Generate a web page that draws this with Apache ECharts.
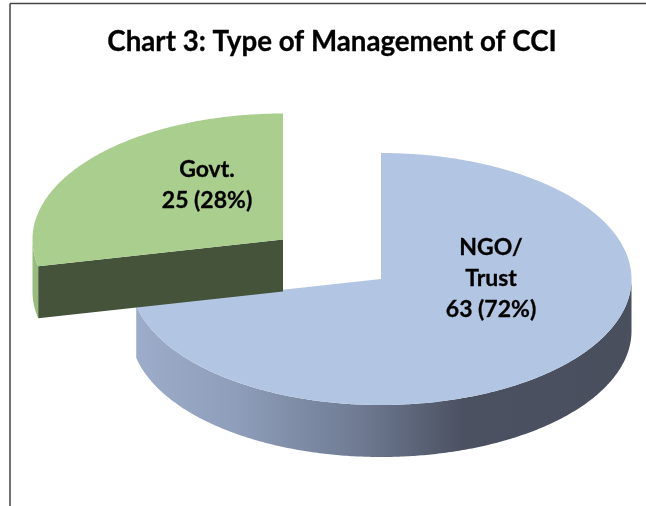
<!DOCTYPE html>
<html>
<head>
<meta charset="utf-8">
<style>html,body{margin:0;padding:0;background:#fff}#c{width:646px;height:506px}</style>
<script src="https://cdn.jsdelivr.net/npm/echarts@6/dist/echarts.min.js"></script>
</head>
<body>
<div id="c"></div>
<script>
const chartTitle = 'Chart 3: Type of Management of CCI';
const categories = ['NGO/\nTrust', 'Govt.'];
const values = [63, 25];
const valueLabels = ['63 (72%)', '25 (28%)'];

const topColors = ['#b2c6e3', '#a9ce8d'];
const RX = 250.5, RY = 126, DEPTH = 52;
const centers = [[381, 279], [283, 239.5]];
const labelAnchors = [[491, 279], [207, 185]];
const total = values.reduce((a, b) => a + b, 0);

function pt(c, t, dy) {
  return [c[0] + RX * Math.sin(t), c[1] - RY * Math.cos(t) + (dy || 0)];
}
function arc(c, a, b, dy) {
  const n = Math.max(2, Math.ceil(Math.abs(b - a) / 0.01));
  const out = [];
  for (let i = 0; i <= n; i++) out.push(pt(c, a + (b - a) * i / n, dy));
  return out;
}
const sideFill = {
  type: 'linear', x: 135, y: 0, x2: 632, y2: 0, global: true,
  colorStops: [
    { offset: 0, color: '#9cacca' },
    { offset: 0.2, color: '#8f9eba' },
    { offset: 0.45, color: '#6f7b93' },
    { offset: 0.66, color: '#4b5161' },
    { offset: 1, color: '#4a4f5e' }
  ]
};
function renderItem(params, api) {
  const i = params.dataIndex;
  let before = 0;
  for (let k = 0; k < i; k++) before += values[k];
  const a0 = before / total * 2 * Math.PI;
  const a1 = (before + api.value(0)) / total * 2 * Math.PI;
  const c = centers[i];
  const children = [];
  const lo = Math.max(a0, Math.PI / 2), hi = Math.min(a1, 1.5 * Math.PI);
  if (hi > lo) {
    children.push({
      type: 'polygon',
      shape: { points: arc(c, lo, hi, 0).concat(arc(c, hi, lo, DEPTH)) },
      style: { fill: i === 0 ? sideFill : '#97bc7b' }
    });
  }
  if (i === 1) {
    const s = pt(c, a0);
    children.push({
      type: 'polygon',
      shape: { points: [s, c, [c[0], c[1] + DEPTH], [s[0], s[1] + DEPTH]] },
      style: { fill: '#445339' }
    });
  }
  children.push({
    type: 'polygon',
    shape: { points: [c].concat(arc(c, a0, a1, 0)) },
    style: { fill: topColors[i] }
  });
  children.push({
    type: 'text',
    style: {
      x: labelAnchors[i][0], y: labelAnchors[i][1],
      text: categories[i] + '\n' + valueLabels[i],
      fill: '#000', align: 'center', verticalAlign: 'middle',
      font: 'bold 23px Lato', lineHeight: 31,
      stroke: '#000', lineWidth: 0.3
    }
  });
  return { type: 'group', children };
}
const chart = echarts.init(document.getElementById('c'), null, { renderer: 'canvas' });
chart.setOption({
  animation: false,
  backgroundColor: '#fff',
  title: {
    text: chartTitle, left: 327, top: 23, textAlign: 'center',
    textStyle: { fontFamily: 'Lato', fontWeight: 'bold', fontSize: 27.7, color: '#000', textBorderColor: '#000', textBorderWidth: 0.3 }
  },
  tooltip: { show: false },
  graphic: [
    { type: 'line', shape: { x1: 10, y1: 3.5, x2: 646, y2: 3.5 }, style: { stroke: '#444', lineWidth: 1.5 } },
    { type: 'line', shape: { x1: 10, y1: 3.5, x2: 10, y2: 506 }, style: { stroke: '#444', lineWidth: 1.5 } }
  ],
  series: [{
    type: 'custom',
    coordinateSystem: 'none',
    renderItem,
    data: values.map((v, i) => ({ name: categories[i], value: [v] }))
  }]
});
</script>
</body>
</html>
